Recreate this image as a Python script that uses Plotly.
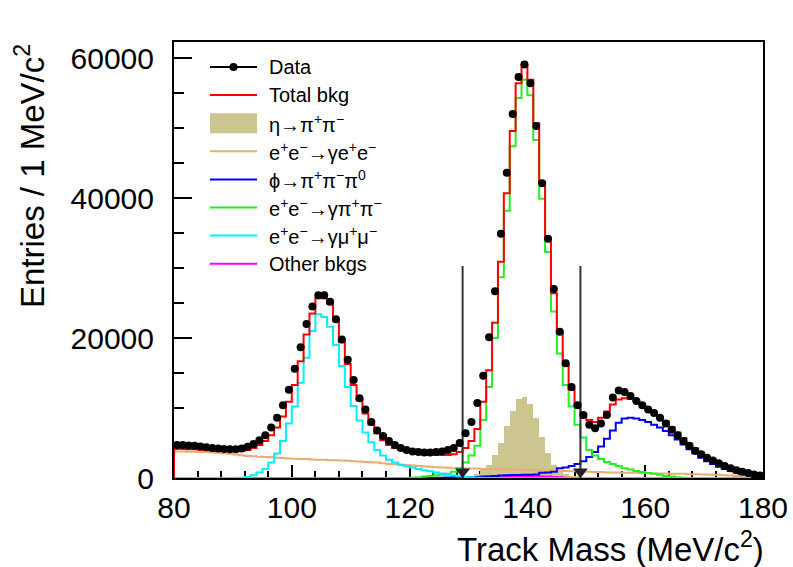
import plotly.graph_objects as go

# ---------------- data (1 MeV/c^2 bins from 80 to 180) ----------------
bin_edges = list(range(80, 181))
bin_centers = [e + 0.5 for e in bin_edges[:-1]]

data_counts = [
    4700, 4700, 4650, 4600, 4500, 4400, 4300, 4200, 4150, 4100,
    4100, 4200, 4450, 4850, 5400, 6100, 7200, 8600, 10400, 12600,
    15600, 18700, 22000, 24500, 26100, 26100, 25200, 22700, 19800, 16900,
    14000, 11400, 9800, 8000, 6800, 6000, 5300, 4700, 4300, 4000,
    3800, 3700, 3650, 3650, 3700, 3800, 4000, 4300, 5000, 6400,
    8000, 10700, 14600, 20100, 26700, 34900, 43600, 52000, 57300, 59100,
    56400, 50300, 42100, 34200, 27000, 20900, 16400, 13000, 10400, 9000,
    7600, 7100, 7800, 9000, 11500, 12500, 12300, 11700, 11000, 10400,
    9800, 9300, 8600, 7800, 6900, 6100, 5300, 4600, 3900, 3400,
    2900, 2500, 2100, 1700, 1400, 1100, 900, 700, 500, 350,
]

total_bkg = [
    4150, 4150, 4100, 4100, 4050, 4000, 3950, 3900, 3900, 3850,
    3850, 3900, 4000, 4300, 4700, 5300, 6100, 7200, 8800, 10900,
    13300, 16700, 20500, 23500, 25700, 25700, 24900, 22500, 19400, 16300,
    13300, 11100, 9200, 7600, 6400, 5400, 4700, 4300, 4100, 3800,
    3700, 3500, 3400, 3300, 3300, 3300, 3300, 3400, 3700, 4300,
    5300, 7000, 10900, 15400, 22200, 30900, 40700, 49600, 56400, 59000,
    56900, 50700, 42300, 34200, 26400, 20700, 16100, 12600, 10600, 9100,
    8300, 8000, 8600, 9500, 10500, 11200, 11400, 11300, 11000, 10500,
    9900, 9400, 8800, 8100, 7300, 6500, 5700, 4900, 4200, 3600,
    3000, 2600, 2200, 1800, 1500, 1200, 950, 750, 550, 380,
]

eta_pipi = [
    0, 0, 0, 0, 0, 0, 0, 0, 0, 0,
    0, 0, 0, 0, 0, 0, 0, 0, 0, 0,
    0, 0, 0, 0, 0, 0, 0, 0, 0, 0,
    0, 0, 0, 0, 0, 0, 0, 0, 0, 0,
    0, 0, 0, 0, 0, 50, 80, 100, 150, 200,
    300, 600, 1100, 1900, 3300, 5000, 7400, 9600, 11300, 11600,
    10600, 8600, 5800, 3600, 1900, 1100, 600, 300, 150, 50,
    0, 0, 0, 0, 0, 0, 0, 0, 0, 0,
    0, 0, 0, 0, 0, 0, 0, 0, 0, 0,
    0, 0, 0, 0, 0, 0, 0, 0, 0, 0,
]

ee_gee = [
    3800, 3800, 3750, 3750, 3700, 3700, 3650, 3600, 3550, 3450,
    3350, 3250, 3150, 3100, 3050, 3000, 2950, 2900, 2850, 2800,
    2750, 2700, 2700, 2650, 2600, 2600, 2550, 2550, 2500, 2450,
    2400, 2350, 2300, 2250, 2200, 2100, 2000, 1950, 1900, 1850,
    1800, 1700, 1650, 1600, 1550, 1500, 1450, 1400, 1400, 1350,
    1350, 1350, 1300, 1300, 1300, 1250, 1250, 1200, 1200, 1150,
    1150, 1100, 1100, 1050, 1050, 1000, 1000, 950, 950, 900,
    900, 850, 850, 800, 800, 800, 750, 750, 750, 700,
    700, 650, 650, 650, 600, 600, 600, 550, 550, 500,
    500, 450, 450, 400, 350, 300, 250, 200, 150, 100,
]

phi_3pi = [
    0, 0, 0, 0, 0, 0, 0, 0, 0, 0,
    0, 0, 0, 0, 0, 0, 0, 0, 0, 0,
    0, 0, 0, 0, 0, 0, 0, 0, 0, 0,
    0, 0, 0, 0, 0, 0, 0, 0, 0, 0,
    0, 0, 0, 0, 30, 50, 80, 100, 120, 150,
    150, 150, 200, 250, 300, 350, 400, 430, 430, 450,
    450, 500, 760, 800, 900, 1400, 1500, 1700, 2000, 2400,
    3000, 3700, 4500, 5600, 6800, 7900, 8500, 8600, 8500, 8300,
    8000, 7600, 7200, 6700, 6100, 5500, 4800, 4100, 3500, 2900,
    2400, 2000, 1600, 1300, 1000, 800, 600, 450, 300, 200,
]

ee_gpipi = [
    0, 0, 0, 0, 0, 0, 0, 0, 0, 0,
    0, 0, 0, 0, 0, 0, 0, 0, 0, 0,
    0, 0, 0, 0, 0, 0, 0, 0, 0, 0,
    0, 0, 0, 0, 0, 0, 0, 0, 0, 0,
    50, 100, 200, 300, 400, 450, 600, 900, 1400, 2200,
    3200, 4600, 8300, 13000, 20000, 28700, 38200, 47400, 54300, 56900,
    54700, 48300, 39900, 32300, 23800, 17800, 13300, 10200, 7600, 5800,
    4000, 3200, 2700, 2300, 2000, 1700, 1400, 1200, 1000, 850,
    700, 600, 450, 300, 200, 100, 50, 0, 0, 0,
    0, 0, 0, 0, 0, 0, 0, 0, 0, 0,
]

ee_gmumu = [
    0, 0, 0, 0, 0, 0, 0, 0, 0, 0,
    0, 50, 150, 400, 800, 1300, 2200, 3500, 5300, 7800,
    10200, 13600, 17200, 21000, 23400, 23000, 21600, 19000, 16000, 13000,
    10300, 8200, 6500, 5100, 4000, 3200, 2600, 2200, 1900, 1700,
    1500, 1300, 1100, 950, 800, 650, 500, 350, 250, 150,
    100, 50, 0, 0, 0, 0, 0, 0, 0, 0,
    0, 0, 0, 0, 0, 0, 0, 0, 0, 0,
    0, 0, 0, 0, 0, 0, 0, 0, 0, 0,
    0, 0, 0, 0, 0, 0, 0, 0, 0, 0,
    0, 0, 0, 0, 0, 0, 0, 0, 0, 0,
]

other_bkg = [
    0, 0, 0, 0, 0, 0, 0, 0, 0, 0,
    0, 0, 0, 0, 0, 0, 0, 0, 0, 0,
    0, 0, 0, 0, 0, 0, 0, 0, 0, 0,
    0, 0, 0, 0, 0, 0, 0, 0, 0, 0,
    0, 0, 0, 0, 0, 0, 0, 0, 0, 0,
    0, 0, 0, 0, 50, 100, 150, 200, 200, 200,
    200, 200, 200, 200, 150, 100, 50, 0, 0, 0,
    0, 0, 0, 0, 0, 0, 0, 0, 0, 0,
    0, 0, 0, 0, 0, 0, 0, 0, 0, 0,
    0, 0, 0, 0, 0, 0, 0, 0, 0, 0,
]

cut_positions = [129, 149]
cut_height = 30300

x_tick_vals = [80, 100, 120, 140, 160, 180]
y_tick_vals = [0, 20000, 40000, 60000]
y_tick_text = ["0", "20000", "40000", "60000"]

legend_labels = [
    "Data",
    "Total bkg",
    "η→π<sup>+</sup>π<sup>−</sup>",
    "e<sup>+</sup>e<sup>−</sup>→γe<sup>+</sup>e<sup>−</sup>",
    "ϕ→π<sup>+</sup>π<sup>−</sup>π<sup>0</sup>",
    "e<sup>+</sup>e<sup>−</sup>→γπ<sup>+</sup>π<sup>−</sup>",
    "e<sup>+</sup>e<sup>−</sup>→γμ<sup>+</sup>μ<sup>−</sup>",
    "Other bkgs",
]

# ---------------- styles ----------------
C_RED = "#FF0000"
C_KHAKI = "#CCC58F"
C_ORANGE = "#E9AD72"
C_BLUE = "#0000FF"
C_GREEN = "#22F022"
C_CYAN = "#00F0FF"
C_MAGENTA = "#FF00FF"
FONT = "Liberation Sans, Arial, Helvetica, sans-serif"
LW = 2


def step_xy(vals):
    xs = [bin_edges[0]] + bin_edges[:-1] + [bin_edges[-1]]
    ys = [0] + list(vals) + [vals[-1]]
    return xs, ys


fig = go.Figure()

fig.add_trace(go.Bar(x=bin_centers, y=eta_pipi, width=1.0,
                     marker=dict(color=C_KHAKI, line=dict(width=0)),
                     showlegend=False))

for vals, col in [(ee_gee, C_ORANGE), (other_bkg, C_MAGENTA), (phi_3pi, C_BLUE),
                  (ee_gpipi, C_GREEN), (ee_gmumu, C_CYAN), (total_bkg, C_RED)]:
    xs, ys = step_xy(vals)
    fig.add_trace(go.Scatter(x=xs, y=ys, mode="lines", line_shape="hv",
                             line=dict(color=col, width=LW), showlegend=False))

# cut lines with arrows
for xc in cut_positions:
    fig.add_trace(go.Scatter(x=[xc, xc], y=[0, cut_height], mode="lines",
                             line=dict(color="#333333", width=2), showlegend=False))
fig.add_trace(go.Scatter(x=cut_positions, y=[900] * len(cut_positions), mode="markers",
                         marker=dict(symbol="triangle-down", size=13, color="#222222"),
                         showlegend=False))

fig.add_trace(go.Scatter(x=bin_centers, y=data_counts, mode="markers",
                         marker=dict(color="black", size=8), showlegend=False))

# ---------------- manual legend (ROOT style) ----------------
L, T, W, H = 174.0, 42.0, 589.0, 436.0


def px(xp):
    return (xp - L) / W


def py(yp):
    return (T + H - yp) / H


shapes = []
annotations = []
sym_x0, sym_x1, txt_x = 210, 257, 267
row_y0, row_dy = 67, 28.1
legend_styles = ["data", C_RED, "box", C_ORANGE, C_BLUE, C_GREEN, C_CYAN, C_MAGENTA]
for i, (lab, sty) in enumerate(zip(legend_labels, legend_styles)):
    yy = row_y0 + i * row_dy
    if sty == "box":
        shapes.append(dict(type="rect", xref="paper", yref="paper",
                           x0=px(sym_x0), x1=px(sym_x1), y0=py(yy + 10), y1=py(yy - 10),
                           fillcolor=C_KHAKI, line=dict(width=0)))
    elif sty == "data":
        shapes.append(dict(type="line", xref="paper", yref="paper",
                           x0=px(sym_x0), x1=px(sym_x1), y0=py(yy), y1=py(yy),
                           line=dict(color="black", width=2)))
        cx = (sym_x0 + sym_x1) / 2
        shapes.append(dict(type="circle", xref="paper", yref="paper",
                           x0=px(cx - 4), x1=px(cx + 4), y0=py(yy + 4), y1=py(yy - 4),
                           fillcolor="black", line=dict(width=0)))
    else:
        shapes.append(dict(type="line", xref="paper", yref="paper",
                           x0=px(sym_x0), x1=px(sym_x1), y0=py(yy), y1=py(yy),
                           line=dict(color=sty, width=2)))
    annotations.append(dict(text=lab, xref="paper", yref="paper", x=px(txt_x), y=py(yy),
                            xanchor="left", yanchor="middle", showarrow=False,
                            font=dict(family=FONT, size=20, color="black")))

# axis titles (ROOT style: right / top aligned)
annotations.append(dict(text="Track Mass (MeV/c<sup>2</sup>)", xref="paper", yref="paper",
                        x=px(766), y=py(547), xanchor="right", yanchor="middle",
                        showarrow=False, font=dict(family=FONT, size=33, color="black")))
annotations.append(dict(text="Entries / 1 MeV/c<sup>2</sup>", xref="paper", yref="paper",
                        x=px(30), y=py(42), xanchor="center", yanchor="top", textangle=-90,
                        showarrow=False, font=dict(family=FONT, size=33, color="black")))

fig.update_layout(
    width=793, height=567,
    margin=dict(l=174, r=30, t=42, b=89, autoexpand=False),
    paper_bgcolor="white", plot_bgcolor="white",
    bargap=0, showlegend=False,
    shapes=shapes, annotations=annotations,
    font=dict(family=FONT, color="black"),
)
fig.update_xaxes(range=[80, 180], tickvals=x_tick_vals, ticks="inside", ticklen=13,
                 tickwidth=1.5, tickcolor="black", showline=True, linecolor="black",
                 linewidth=2, mirror=True, showgrid=False, zeroline=False, automargin=False,
                 layer="below traces", tickfont=dict(family=FONT, size=30),
                 ticklabelstandoff=2,
                 minor=dict(dtick=4, ticks="inside", ticklen=7, tickwidth=1.5,
                            tickcolor="black", showgrid=False))
fig.update_yaxes(range=[0, 62300], tickvals=y_tick_vals, ticktext=y_tick_text,
                 ticks="inside", ticklen=18,
                 tickwidth=1.5, tickcolor="black", showline=True, linecolor="black",
                 linewidth=2, mirror=True, showgrid=False, zeroline=False, automargin=False,
                 layer="below traces", tickfont=dict(family=FONT, size=30),
                 ticklabelstandoff=12,
                 minor=dict(dtick=5000, ticks="inside", ticklen=10, tickwidth=1.5,
                            tickcolor="black", showgrid=False))

fig.write_html("out.html")
